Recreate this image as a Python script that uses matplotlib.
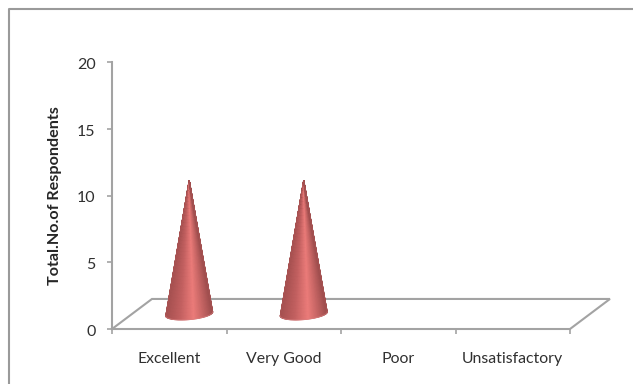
import numpy as np
import matplotlib
matplotlib.use('Agg')
import matplotlib.pyplot as plt
from matplotlib.colors import LinearSegmentedColormap
from matplotlib.lines import Line2D
from matplotlib.transforms import ScaledTranslation

categories = ['Excellent', 'Very Good', 'Poor', 'Unsatisfactory']
respondents = [10, 10, 0, 0]
y_ticks = [0, 5, 10, 15, 20]

W, H = 633, 384
GREY = '#a3a3a3'
TEXT = '#303030'

plt.rcParams['font.family'] = ['Lato', 'DejaVu Sans']

fig = plt.figure(figsize=(W / 100, H / 100), dpi=100)
ax = fig.add_axes([112 / W, (H - 329) / H, (570 - 112) / W, (329 - 62) / H])
ax.set_xlim(-0.5, 3.5)
ax.set_ylim(0, 20)

# outer chart border, only left and top edges fall inside the image
fig.add_artist(Line2D([9 / W, 9 / W, 1], [0, (H - 9) / H, (H - 9) / H],
                      color='#9a9a9a', lw=1.5, transform=fig.transFigure))

# 3d floor: depth offset of the back edge, in data units
depth_x, depth_y = 0.349, 2.25
floor_x = [-0.5, -0.5 + depth_x, 3.5 + depth_x, 3.5, -0.5]
floor_y = [0, depth_y, depth_y, 0, 0]
ax.plot(floor_x, floor_y, color=GREY, lw=1.5, clip_on=False, zorder=1,
        solid_joinstyle='miter')

cone_cmap = LinearSegmentedColormap.from_list('cone', [
    (0.00, '#a65050'), (0.30, '#c26060'), (0.60, '#ec7c7a'),
    (0.80, '#c86665'), (1.00, '#a04e4e')])

half_w, half_h, tilt = 0.205, 0.42, 0.15


def draw_cone(ax, xc, value):
    # mesh over the visible front half of the cone, shaded by horizontal position
    theta = np.linspace(np.pi, 2 * np.pi, 80)
    frac = np.linspace(0, 1, 40)
    th, t = np.meshgrid(theta, frac)
    cx, cy = xc + depth_x / 2, depth_y / 2
    bx = cx + half_w * np.cos(th)
    by = cy + half_h * np.sin(th) + tilt * np.cos(th)
    X = cx + (bx - cx) * t
    Y = (cy + value) + (by - cy - value) * t
    ax.pcolormesh(X, Y, (1 + np.cos(th)) / 2, cmap=cone_cmap, vmin=0, vmax=1,
                  shading='gouraud', zorder=3, clip_on=False)
    # soft rim so the silhouette is not jagged
    ax.plot(X[-1], Y[-1], color='#d98080', lw=0.7, alpha=0.6, zorder=4, clip_on=False)
    ax.plot([X[-1][0], cx, X[-1][-1]], [Y[-1][0], cy + value, Y[-1][-1]],
            color='#b05a5a', lw=0.5, alpha=0.5, zorder=4, clip_on=False)


for i, value in enumerate(respondents):
    if value > 0:
        draw_cone(ax, i, value)

for side in ['top', 'right', 'bottom']:
    ax.spines[side].set_visible(False)
ax.spines['left'].set_color(GREY)
ax.spines['left'].set_linewidth(1.5)

ax.set_yticks(y_ticks)
ax.tick_params(axis='y', length=3.8, width=1.2, color=GREY, pad=8, labelsize=11.5,
               labelcolor=TEXT)
nudge = ScaledTranslation(0, -1.5 / 100, fig.dpi_scale_trans)
for label in ax.get_yticklabels():
    label.set_transform(label.get_transform() + nudge)

ax.set_xticks(np.arange(-0.5, 4, 1))
ax.set_xticklabels([])
ax.tick_params(axis='x', which='major', length=3.8, width=1.2, color=GREY)
ax.set_xticks(range(len(categories)), categories, minor=True)
ax.tick_params(axis='x', which='minor', length=0, pad=16.5, labelsize=11.4, labelcolor=TEXT)

fig.text(55 / W, (H - 196) / H, 'Total.No.of Respondents', rotation=90, ha='center',
         va='center', fontsize=11.6, fontweight='bold', color='#262626')

fig.savefig('out.png', dpi=100)
